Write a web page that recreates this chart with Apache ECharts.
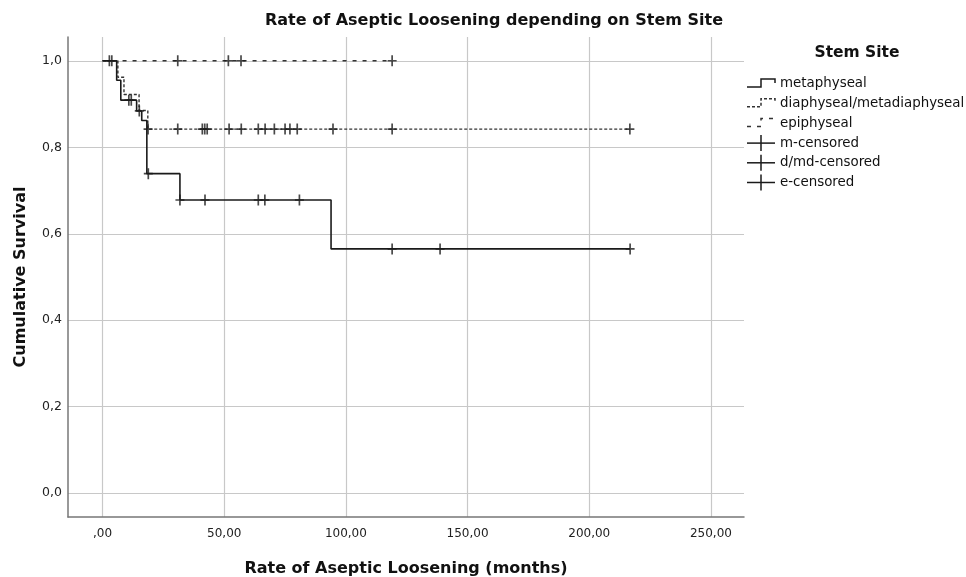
<!DOCTYPE html>
<html>
<head>
<meta charset="utf-8">
<script src="https://cdn.jsdelivr.net/npm/echarts@6/dist/echarts.min.js"></script>
<style>html,body{margin:0;padding:0;background:#fff;overflow:hidden}#c{width:966px;height:577px}</style>
</head>
<body>
<div id="c"></div>
<script>
// ---- data ----
const xTicks = [0, 50, 100, 150, 200, 250];
const yTicks = [0, 0.2, 0.4, 0.6, 0.8, 1.0];

const metaTimes = [0, 5.8, 7.5, 14.0, 16.1, 18.2, 31.8, 93.9, 216.8];
const metaSurv  = [1.0, 0.955, 0.909, 0.884, 0.862, 0.739, 0.678, 0.565, 0.565];

const diaTimes = [0, 6.3, 8.8, 15.0, 18.6, 216.7];
const diaSurv  = [1.0, 0.962, 0.922, 0.885, 0.842, 0.842];

const epiTimes = [0, 119.0];
const epiSurv  = [1.0, 1.0];

const mCensTimes = [10.8, 11.8, 15.1, 18.8, 31.8, 42.1, 64.0, 66.7, 80.9, 119.0, 138.7, 216.8];
const mCensSurv  = [0.909, 0.909, 0.884, 0.739, 0.678, 0.678, 0.678, 0.678, 0.678, 0.565, 0.565, 0.565];

const dCensTimes = [18.7, 30.9, 41.0, 42.0, 43.0, 52.0, 57.0, 64.0, 66.8, 70.6, 75.0, 77.0, 80.0, 94.7, 119.0, 216.7];
const dCensSurv  = [0.842, 0.842, 0.842, 0.842, 0.842, 0.842, 0.842, 0.842, 0.842, 0.842, 0.842, 0.842, 0.842, 0.842, 0.842, 0.842];

const eCensTimes = [2.8, 3.8, 30.9, 51.7, 56.9, 119.0];
const eCensSurv  = [1.0, 1.0, 1.0, 1.0, 1.0, 1.0];

const legendNames = ['metaphyseal', 'diaphyseal/metadiaphyseal', 'epiphyseal', 'm-censored', 'd/md-censored', 'e-censored'];

// ---- build ----
const zip = (a, b) => a.map((v, i) => [v, b[i]]);
const FONT = '"DejaVu Sans", sans-serif';
const plus = 'path://M0,4.25 L3.25,4.25 L3.25,0 L4.75,0 L4.75,4.25 L8,4.25 L8,5.75 L4.75,5.75 L4.75,10 L3.25,10 L3.25,5.75 L0,5.75 Z';

function censor(name, t, s) {
  return {
    name, type: 'scatter', data: zip(t, s), symbol: plus, symbolSize: [9, 11],
    itemStyle: { color: '#1a1a1a' }, z: 5, silent: true
  };
}

const chart = echarts.init(document.getElementById('c'), null, { renderer: 'canvas', width: 966, height: 577 });

// legend drawn as graphics
const LX = 747, LT = 84, LS = 19.7;
const legendGraphics = [
  { type: 'text', x: 857, y: 53, style: { text: 'Stem Site', font: 'bold 15.5px ' + FONT, fill: '#111', align: 'center', verticalAlign: 'middle' } }
];
const stepDash = [null, [3, 2], [4, 6]];
for (let i = 0; i < 3; i++) {
  const y = LT + i * LS;
  legendGraphics.push({
    type: 'polyline',
    shape: { points: [[LX, y + 3], [LX + 14, y + 3], [LX + 14, y - 5], [LX + 28, y - 5], [LX + 28, y - 1]] },
    style: { stroke: i === 0 ? '#1a1a1a' : '#333', lineWidth: 1.5, fill: null, lineDash: stepDash[i] }
  });
}
for (let i = 3; i < 6; i++) {
  const y = LT + i * LS;
  legendGraphics.push({ type: 'line', shape: { x1: LX, y1: y, x2: LX + 28, y2: y }, style: { stroke: '#1a1a1a', lineWidth: 1.5 } });
  legendGraphics.push({ type: 'line', shape: { x1: LX + 14, y1: y - 8, x2: LX + 14, y2: y + 8 }, style: { stroke: '#1a1a1a', lineWidth: 1.5 } });
}
legendNames.forEach((n, i) => {
  legendGraphics.push({ type: 'text', x: 780, y: LT + i * LS, style: { text: n, font: '13.4px ' + FONT, fill: '#111', verticalAlign: 'middle' } });
});

chart.setOption({
  animation: false,
  backgroundColor: '#fff',
  title: {
    text: 'Rate of Aseptic Loosening depending on Stem Site',
    left: 494, top: 13, textAlign: 'center', padding: 0,
    textStyle: { fontFamily: FONT, fontSize: 16, fontWeight: 'bold', color: '#111' }
  },
  grid: { left: 68, right: 222, top: 37, bottom: 60, containLabel: false, outerBoundsMode: 'none' },
  xAxis: {
    type: 'value', min: -14.2, max: 263.6,
    name: 'Rate of Aseptic Loosening (months)', nameLocation: 'middle', nameGap: 44,
    nameTextStyle: { fontFamily: FONT, fontSize: 16, fontWeight: 'bold', color: '#111' },
    axisLine: { show: true, onZero: false, lineStyle: { color: '#777', width: 1.5 } },
    axisTick: { show: false, customValues: xTicks },
    axisLabel: {
      customValues: xTicks, fontFamily: FONT, fontSize: 12, color: '#222', margin: 11,
      formatter: v => v === 0 ? ',00' : v.toFixed(2).replace('.', ',')
    },
    splitLine: { show: true, lineStyle: { color: '#c8c8c8', width: 1.2 } }
  },
  yAxis: {
    type: 'value', min: -0.055, max: 1.055,
    name: 'Cumulative Survival', nameLocation: 'middle', nameGap: 39,
    nameTextStyle: { fontFamily: FONT, fontSize: 16, fontWeight: 'bold', color: '#111' },
    axisLine: { show: true, onZero: false, lineStyle: { color: '#777', width: 1.5 } },
    axisTick: { show: false, customValues: yTicks },
    axisLabel: {
      customValues: yTicks, fontFamily: FONT, fontSize: 12.5, color: '#222', margin: 6,
      formatter: v => v.toFixed(1).replace('.', ',')
    },
    splitLine: { show: true, lineStyle: { color: '#c8c8c8', width: 1.2 } }
  },
  graphic: legendGraphics,
  series: [
    { name: 'epiphyseal', type: 'line', step: 'end', data: zip(epiTimes, epiSurv), symbol: 'none',
      lineStyle: { color: '#333', width: 1.4, type: [4, 6] }, z: 2, silent: true },
    { name: 'diaphyseal/metadiaphyseal', type: 'line', step: 'end', data: zip(diaTimes, diaSurv), symbol: 'none',
      lineStyle: { color: '#333', width: 1.4, type: [3, 2] }, z: 3, silent: true },
    { name: 'metaphyseal', type: 'line', step: 'end', data: zip(metaTimes, metaSurv), symbol: 'none',
      lineStyle: { color: '#1a1a1a', width: 1.6, type: 'solid' }, z: 4, silent: true },
    censor('m-censored', mCensTimes, mCensSurv),
    censor('d/md-censored', dCensTimes, dCensSurv),
    censor('e-censored', eCensTimes, eCensSurv)
  ]
});
</script>
</body>
</html>
